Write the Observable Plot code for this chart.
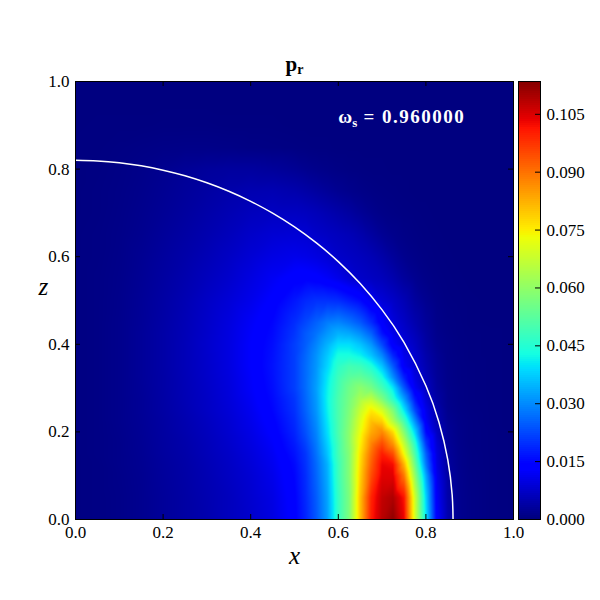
<!DOCTYPE html>
<html><head><meta charset="utf-8">
<style>html,body{margin:0;padding:0;background:#fff}#c{position:relative;width:600px;height:600px}#c svg{position:absolute;left:0;top:0;background:transparent}</style>
<script src="https://cdn.jsdelivr.net/npm/d3@7"></script>
<script src="https://cdn.jsdelivr.net/npm/@observablehq/plot@0.6"></script>
</head><body><div id="c"></div>
<script>
const xs=[0,.05,.1,.15,.2,.25,.3,.35,.4,.45, .5,.525,.55,.575,.6,.625,.65,.675,.7,.725, .75,.775,.8,.825,.85,.875,.9,.95,1];
const zs=[0,.05,.1,.125,.15,.175,.2,.225,.25,.275,.3,.325,.35,.375,.4,.425,.45,.5,.55,.6,.65,.7,.75,.8,.85,.9,.95,1];
const z00=[.0002,.0004,.0008,.0015,.0025,.0035,.0045,.006,.0075,.0095, .0135,.018,.024,.032,.047,.057,.08,.1,.108,.112, .103,.069,.04,.013,.0045,.0015,.0008,.0002,0];
const z05=[.0002,.0004,.0008,.0015,.0025,.0035,.0047,.006,.0078,.0098, .0138,.0185,.0245,.0325,.047,.057,.08,.099,.107,.109, .101,.068,.038,.012,.004,.0015,.0008,.0002,0];
const z10=[.0002,.0004,.0009,.0016,.0027,.0037,.005,.0065,.0082,.0105, .0145,.019,.0255,.0335,.048,.058,.078,.094,.104,.104, .089,.06,.033,.0105,.0035,.0014,.0007,.0002,0];
const z125=[.0002,.0004,.001,.0017,.0028,.0038,.0052,.0067,.0086,.011, .015,.0195,.026,.034,.048,.058,.077,.092,.103,.102, .082,.055,.028,.0095,.003,.0013,.0006,.0002,0];
const z15=[.0002,.0005,.001,.0018,.003,.004,.0055,.007,.009,.0115, .016,.02,.027,.036,.049,.058,.076,.09,.1,.094, .073,.05,.025,.009,.0027,.0012,.0006,.0002,0];
const z175=[.0002,.0005,.001,.0019,.0031,.0042,.0057,.0074,.0095,.0122, .017,.0215,.028,.0375,.049,.059,.074,.087,.094,.085, .066,.045,.02,.008,.0024,.0011,.0005,.0002,0];
const z20=[.0002,.0005,.0011,.002,.0032,.0045,.006,.0078,.01,.013, .018,.023,.029,.039,.05,.059,.072,.083,.087,.077, .058,.038,.015,.0065,.0022,.001,.0005,.0002,0];
const z225=[.0002,.0005,.0012,.0021,.0033,.0047,.0063,.0081,.0105,.0137, .0187,.024,.03,.04,.05,.058,.07,.08,.078,.064, .049,.03,.0118,.005,.0018,.0009,.0005,.0001,0];
const z25=[.0002,.0005,.0012,.0022,.0035,.005,.0067,.0085,.011,.0145, .0195,.025,.031,.041,.05,.057,.067,.075,.069,.057, .04,.022,.0105,.0045,.0014,.0007,.0004,.0001,0];
const z275=[.0002,.0005,.0012,.0022,.0036,.0052,.0068,.0088,.0115,.015, .02,.0255,.0315,.0415,.05,.056,.063,.066,.057,.046, .032,.0165,.0085,.0035,.0012,.0006,.0003,.0001,0];
const z30=[.0002,.0005,.0012,.0023,.0037,.0053,.007,.009,.012,.0155, .021,.026,.032,.041,.049,.055,.059,.056,.049,.04, .024,.0115,.0065,.0028,.0011,.0006,.0003,.0001,0];
const z325=[.0002,.0005,.0012,.0024,.0037,.0054,.0072,.0092,.0122,.0158, .021,.026,.0315,.04,.048,.052,.053,.05,.043,.03, .0175,.0095,.0055,.0024,.001,.0005,.0003,.0001,0];
const z35=[.0002,.0005,.0012,.0024,.0038,.0055,.0073,.0094,.0125,.016, .021,.026,.031,.038,.046,.049,.048,.044,.036,.024, .012,.008,.0048,.0022,.0009,.0005,.0003,.0001,0];
const z375=[.0002,.0005,.0012,.0024,.0038,.0055,.0074,.0095,.0125,.0158, .021,.0255,.0305,.0365,.043,.043,.041,.036,.029,.018, .0105,.0075,.0042,.002,.0008,.0005,.0002,.0001,0];
const z40=[.0002,.0005,.0012,.0024,.0038,.0055,.0075,.0095,.0125,.0155, .021,.0245,.029,.034,.039,.039,.036,.031,.022,.0125, .009,.0065,.0035,.0015,.0008,.0004,.0002,.0001,0];
const z425=[.0002,.0005,.0012,.0024,.0038,.0054,.0073,.0094,.0122,.015, .02,.024,.027,.031,.034,.033,.03,.025,.016,.0105, .0078,.0055,.003,.0012,.0006,.0003,.0002,.0001,0];
const z45=[.0002,.0005,.0012,.0023,.0037,.0053,.0072,.0092,.0118,.0145, .019,.022,.025,.028,.029,.027,.024,.019,.0125,.009, .0068,.0045,.0025,.001,.0005,.0003,.0001,0,0];
const z50=[.0002,.0005,.0011,.0022,.0035,.005,.0068,.0085,.0105,.013, .0165,.0185,.0195,.0195,.019,.017,.015,.011,.0085,.007, .0052,.003,.0016,.0007,.0003,.0002,.0001,0,0];
const z55=[.0002,.0005,.001,.002,.0032,.0045,.006,.0075,.0095,.0115, .0135,.0138,.0132,.012,.0105,.0085,.0072,.0065,.0058,.0045, .0028,.0016,.0008,.0004,.0002,.0001,0,0,0];
const z60=[.0002,.0004,.0009,.0018,.0029,.004,.0053,.0067,.0083,.0098, .0105,.0102,.0095,.0085,.0072,.0066,.006,.0052,.004,.0026, .0014,.0008,.0004,.0002,.0001,0,0,0,0];
const z65=[.0002,.0004,.0008,.0015,.0025,.0035,.0046,.0058,.0072,.0082, .0085,.0082,.0072,.0066,.006,.0054,.0044,.0032,.002,.0012, .0007,.0004,.0002,.0001,0,0,0,0,0];
const z70=[.0001,.0003,.0007,.0013,.0021,.003,.004,.005,.006,.0065, .0065,.0062,.0056,.0048,.004,.0032,.0022,.0014,.0008,.0005, .0003,.0002,.0001,0,0,0,0,0,0];
const z75=[.0001,.0003,.0006,.0011,.0018,.0026,.0034,.0042,.0048,.005, .0044,.0038,.0031,.0024,.0017,.0012,.0008,.0005,.0003,.0002, .0001,0,0,0,0,0,0,0,0];
const z80=[.0001,.0002,.0005,.0009,.0015,.0022,.0027,.003,.003,.0026, .002,.0015,.0011,.0008,.0005,.0003,.0002,.0001,.0001,0, 0,0,0,0,0,0,0,0,0];
const z85=[.0001,.0001,.0003,.0005,.0007,.0008,.0008,.0007,.0005,.0004, .0003,.0002,.0001,.0001,0,0,0,0,0,0, 0,0,0,0,0,0,0,0,0];
const z90=[0,.0001,.0001,.0001,.0002,.0002,.0002,.0001,.0001,.0001, 0,0,0,0,0,0,0,0,0,0, 0,0,0,0,0,0,0,0,0];
const z95=[0,0,0,0,0,0,0,0,0,0, 0,0,0,0,0,0,0,0,0,0, 0,0,0,0,0,0,0,0,0];
const z100=[0,0,0,0,0,0,0,0,0,0, 0,0,0,0,0,0,0,0,0,0, 0,0,0,0,0,0,0,0,0];
const rows=[z00,z05,z10,z125,z15,z175,z20,z225,z25,z275,z30,z325,z35,z375,z40,z425,z45,z50,z55,z60,z65,z70,z75,z80,z85,z90,z95,z100];

const curveX=[0,.05,.1,.15,.2,.25,.3,.35,.4,.45,.5,.55,.6,.65,.7,.75,.8,.83,.85,.86,.862];
const curveZ=[.82,.8186,.8145,.8075,.7976,.7848,.7687,.7493,.7264,.6994,.668,.6314,.5888,.5386,.4785,.4043,.3054,.2215,.1362,.0558,0];

const axisTicks=[0,.2,.4,.6,.8,1];
const barTicks=[0,.015,.03,.045,.06,.075,.09,.105];
const vmax=.1135;
const jetStops=[0,.11,.125,.34,.35,.375,.64,.65,.66,.89,.91,1];
const jetColors=["#000080","#0000ff","#0000ff","#00dbff","#00e6f7","#15ffe2","#eeff08","#f7f600","#ffec00","#ff1300","#e80000","#800000"];
const FONT="'Liberation Serif',serif";
const TICK="#000";

const cells=[];
rows.forEach((r,j)=>{ if(r.length!==xs.length) throw new Error("row "+j+" has "+r.length); r.forEach((v,i)=>cells.push({x:xs[i],z:zs[j],v})); });
const curve=curveX.map((x,i)=>({x,z:curveZ[i]}));
const color={type:"linear",domain:jetStops.map(t=>t*vmax),range:jetColors,interpolate:"rgb",clamp:true};
const M={marginTop:81,marginBottom:81,marginLeft:75};
const fmt1=d3.format(".1f");

const main=Plot.plot({width:600,height:600,...M,marginRight:87,style:{background:"transparent",fontFamily:FONT},
  x:{domain:[0,1],label:null},y:{domain:[0,1],label:null},color,
  marks:[
    Plot.raster(cells,{x:"x",y:"z",fill:"v",interpolate:"barycentric"}),
    Plot.line(curve,{x:"x",y:"z",stroke:"#fff",strokeWidth:1.5,curve:"natural"}),
    Plot.text(["\u03c9"],{x:()=>.6,y:()=>.92,textAnchor:"start",fill:"#fff",fontSize:19,fontWeight:"bold",fontFamily:FONT,className:"omega"}),
    Plot.frame({stroke:"#000",strokeWidth:1}),
    Plot.ruleX(axisTicks,{stroke:TICK,insetTop:433}),
    Plot.ruleX(axisTicks,{stroke:TICK,insetBottom:433}),
    Plot.ruleY(axisTicks,{stroke:TICK,insetRight:433}),
    Plot.ruleY(axisTicks,{stroke:TICK,insetLeft:433}),
    Plot.axisX(axisTicks,{anchor:"bottom",tickSize:0,tickPadding:6,tickFormat:fmt1,fontSize:17,fill:"#000",label:null}),
    Plot.axisY(axisTicks,{anchor:"left",tickSize:0,tickPadding:6,tickFormat:fmt1,fontSize:17,fill:"#000",label:null}),
    Plot.text(["p"],{frameAnchor:"top",dy:-25,fontSize:21,fontWeight:"bold",fontFamily:FONT,fill:"#000",className:"ttl"}),
    Plot.text(["x"],{frameAnchor:"bottom",dy:44,fontSize:25,fontStyle:"italic",fontFamily:FONT,fill:"#000"}),
    Plot.text(["z"],{frameAnchor:"left",dx:-37,dy:-14,fontSize:25,fontStyle:"italic",fontFamily:FONT,fill:"#000"})
  ]});

const levels=d3.range(0,vmax,vmax/219);
const bar=Plot.plot({width:600,height:600,...M,marginLeft:518,marginRight:60,style:{background:"transparent",fontFamily:FONT},
  x:{domain:[0,1],axis:null},y:{domain:[0,vmax],label:null},color,
  marks:[
    Plot.rect(levels,{x1:()=>0,x2:()=>1,y1:d=>d,y2:d=>d+vmax/219,fill:d=>d,shapeRendering:"crispEdges"}),
    Plot.frame({stroke:"#000",strokeWidth:1}),
    Plot.ruleY(barTicks,{stroke:TICK,insetLeft:17}),
    Plot.axisY(barTicks,{anchor:"right",tickSize:0,tickPadding:6,tickFormat:d3.format(".3f"),fontSize:17,fill:"#000",label:null})
  ]});

const host=document.getElementById("c");
host.append(main,bar);

function sub(sel,pieces){
  const t=d3.select(main).select(sel+" text");
  pieces.forEach(p=>t.append("tspan").attr("dy",p.dy).attr("font-size",p.size).attr("letter-spacing",p.ls||null).text(p.text));
}
sub(".omega",[{text:"s",dy:4,size:13},{text:" = 0.960000",dy:-4,size:19,ls:"1.5px"}]);
sub(".ttl",[{text:"r",dy:3,size:14}]);
</script></body></html>
